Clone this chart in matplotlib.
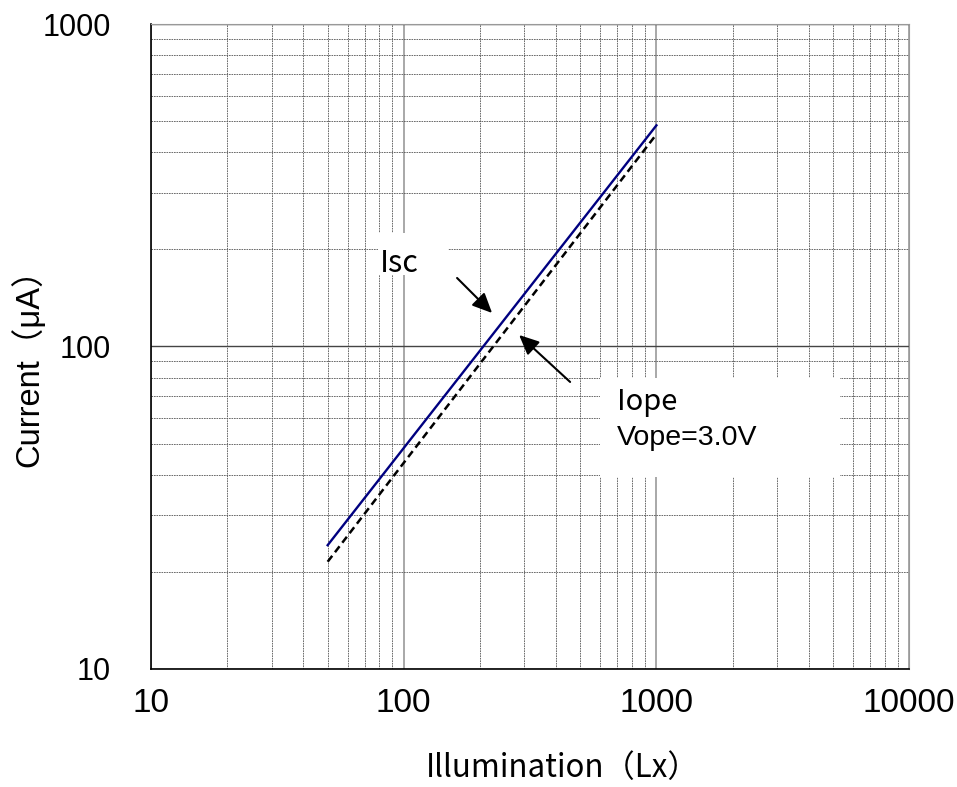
import matplotlib
matplotlib.use("Agg")
import matplotlib.pyplot as plt
from matplotlib.patches import Rectangle
from matplotlib.ticker import LogLocator, FixedLocator, NullFormatter

# data
illum = [50, 1000]
isc = [24.2, 485]
iope = [21.5, 455]

x_ticks = [10, 100, 1000, 10000]
x_ticklabels = ["10", "100", "1000", "10000"]
y_ticks = [10, 100, 1000]
y_ticklabels = ["10", "100", "1000"]

cjk = ["Noto Sans CJK JP", "DejaVu Sans"]
latin_cjk = ["Liberation Sans", "Noto Sans CJK JP"]

fig = plt.figure(figsize=(9.57, 7.87), dpi=100)
ax = fig.add_axes([0.1578, 0.150, 0.7922, 0.8195])

ax.set_xscale("log")
ax.set_yscale("log")
ax.set_xlim(10, 10000)
ax.set_ylim(10, 1000)

ax.plot(illum, isc, color="#000080", lw=1.7, zorder=3)
ax.plot(illum, iope, color="black", lw=1.8, ls=(0, (3, 1.8)), zorder=3)

ax.xaxis.set_major_locator(FixedLocator(x_ticks))
ax.yaxis.set_major_locator(FixedLocator(y_ticks))
ax.set_xticklabels(x_ticklabels, fontfamily="Liberation Sans", fontsize=24)
ax.set_yticklabels(y_ticklabels, fontfamily="Liberation Sans", fontsize=22)
ax.xaxis.set_minor_locator(LogLocator(base=10, subs=range(2, 10)))
ax.yaxis.set_minor_locator(LogLocator(base=10, subs=range(2, 10)))
ax.xaxis.set_minor_formatter(NullFormatter())
ax.yaxis.set_minor_formatter(NullFormatter())
ax.tick_params(which="both", length=0)
ax.tick_params(axis="x", pad=14)
ax.tick_params(axis="y", pad=29)

ax.xaxis.grid(True, which="major", color="#999999", lw=1.2, ls="-")
ax.yaxis.grid(True, which="major", color="#444444", lw=1.0, ls="-")
ax.grid(which="minor", color="#555555", lw=0.6, ls=(0, (2, 1)))
ax.set_axisbelow(True)

for side in ["top", "right"]:
    ax.spines[side].set_color("#999999")
ax.spines["left"].set_linewidth(1.2)
ax.spines["bottom"].set_linewidth(1.2)

fig.text(563 / 957, 1 - 768 / 787, "Illumination（Lx）", fontfamily=cjk, fontsize=22.5,
         ha="center", va="center")
fig.text(28 / 957, 1 - 360 / 787, "Current（μA）", fontfamily=latin_cjk, fontsize=23.5,
         rotation=90, ha="center", va="center")

# white label boxes
ax.add_patch(Rectangle((0.2995, 0.611), 0.0923, 0.065, transform=ax.transAxes,
                       facecolor="white", edgecolor="none", zorder=2))
ax.add_patch(Rectangle((0.5923, 0.2977), 0.3167, 0.1535, transform=ax.transAxes,
                       facecolor="white", edgecolor="none", zorder=2))

ax.text(0.302, 0.6155, "Isc", transform=ax.transAxes, fontfamily=cjk, fontsize=22,
        va="baseline", ha="left", zorder=4)
ax.text(0.6148, 0.4016, "Iope", transform=ax.transAxes, fontfamily=cjk, fontsize=21,
        va="baseline", ha="left", zorder=4)
ax.text(0.6148, 0.3473, "Vope=3.0V", transform=ax.transAxes, fontfamily=latin_cjk,
        fontsize=20.5, va="baseline", ha="left", zorder=4)

arrow = dict(arrowstyle="-|>,head_length=1.2,head_width=0.55", color="black", lw=1.5,
             shrinkA=0, shrinkB=0)
ax.annotate("", xy=(0.4499, 0.5519), xytext=(0.4037, 0.6062), xycoords="axes fraction",
            arrowprops=arrow, zorder=5)
ax.annotate("", xy=(0.4855, 0.5178), xytext=(0.5528, 0.4450), xycoords="axes fraction",
            arrowprops=arrow, zorder=5)

fig.savefig("out.png", dpi=100, facecolor="white")
